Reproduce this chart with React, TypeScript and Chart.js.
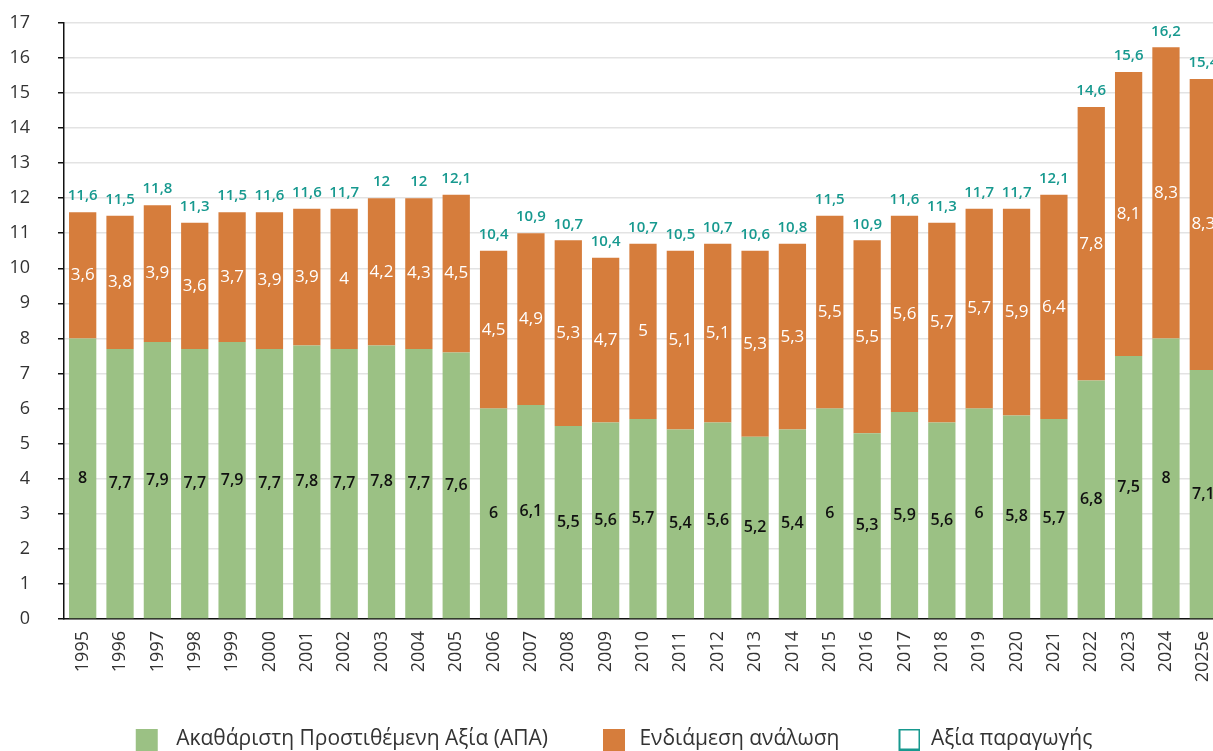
import React, { useEffect, useRef } from "react";
import { Chart, registerables } from "chart.js";

Chart.register(...registerables);

const years = ["1995","1996","1997","1998","1999","2000","2001","2002","2003","2004","2005","2006","2007","2008","2009","2010","2011","2012","2013","2014","2015","2016","2017","2018","2019","2020","2021","2022","2023","2024","2025e"];
const grossValueAdded = [8,7.7,7.9,7.7,7.9,7.7,7.8,7.7,7.8,7.7,7.6,6,6.1,5.5,5.6,5.7,5.4,5.6,5.2,5.4,6,5.3,5.9,5.6,6,5.8,5.7,6.8,7.5,8,7.1];
const intermediate = [3.6,3.8,3.9,3.6,3.7,3.9,3.9,4,4.2,4.3,4.5,4.5,4.9,5.3,4.7,5,5.1,5.1,5.3,5.3,5.5,5.5,5.6,5.7,5.7,5.9,6.4,7.8,8.1,8.3,8.3];
const production = [11.6,11.5,11.8,11.3,11.5,11.6,11.6,11.7,12,12,12.1,10.4,10.9,10.7,10.4,10.7,10.5,10.7,10.6,10.8,11.5,10.9,11.6,11.3,11.7,11.7,12.1,14.6,15.6,16.2,15.4];
const yTicks = [0,1,2,3,4,5,6,7,8,9,10,11,12,13,14,15,16,17];

const FONT = "'Open Sans'";
const GREEN = "#9bc184";
const ORANGE = "#d67d3c";
const TEAL = "#17998f";
const fmt = (v: number) => String(v).replace(".", ",");

function legendSwatch(offset: number, fill: string | null, stroke: string | null) {
  const c = document.createElement("canvas");
  c.width = 40;
  c.height = 22;
  const g = c.getContext("2d")!;
  if (fill) {
    g.fillStyle = fill;
    g.fillRect(offset, 0, 22, 22);
  }
  if (stroke) {
    g.fillStyle = "#ffffff";
    g.fillRect(offset, 0, 22, 22);
    g.strokeStyle = stroke;
    g.lineWidth = 2;
    g.strokeRect(offset + 1, 1, 20, 20);
  }
  return c;
}

const labelPlugin = {
  id: "valueLabels",
  afterDatasetsDraw(chart: any) {
    const ctx = chart.ctx;
    ctx.save();
    ctx.textAlign = "center";
    ctx.textBaseline = "middle";
    const m0 = chart.getDatasetMeta(0);
    const m1 = chart.getDatasetMeta(1);
    m0.data.forEach((el: any, i: number) => {
      ctx.font = `600 16px ${FONT}`;
      ctx.fillStyle = "#111";
      ctx.fillText(fmt(grossValueAdded[i]), el.x, (el.y + el.base) / 2);
    });
    m1.data.forEach((el: any, i: number) => {
      ctx.font = `400 17px ${FONT}`;
      ctx.fillStyle = "#ffffff";
      ctx.fillText(fmt(intermediate[i]), el.x, (el.y + el.base) / 2);
      ctx.font = `600 15px ${FONT}`;
      ctx.fillStyle = TEAL;
      ctx.fillText(fmt(production[i]), el.x, el.y - 16);
    });
    ctx.restore();
  },
};

export default function App() {
  const ref = useRef<HTMLCanvasElement | null>(null);
  useEffect(() => {
    if (!ref.current) return;
    const swatches = [
      legendSwatch(10, GREEN, null),
      legendSwatch(14, ORANGE, null),
      legendSwatch(18, null, TEAL),
    ];
    const chart = new Chart(ref.current, {
      type: "bar",
      data: {
        labels: years,
        datasets: [
          {
            label: "Ακαθάριστη Προστιθέμενη Αξία (ΑΠΑ)",
            data: grossValueAdded,
            backgroundColor: GREEN,
            stack: "s",
            categoryPercentage: 0.73,
            barPercentage: 1,
          },
          {
            label: "Ενδιάμεση ανάλωση",
            data: intermediate,
            backgroundColor: ORANGE,
            stack: "s",
            categoryPercentage: 0.73,
            barPercentage: 1,
          },
          {
            type: "line",
            label: "Αξία παραγωγής",
            data: production,
            stack: "t",
            showLine: false,
            pointRadius: 0,
            pointHoverRadius: 0,
            backgroundColor: "#ffffff",
            borderColor: TEAL,
            borderWidth: 1.5,
          } as any,
        ],
      },
      options: {
        animation: false,
        responsive: false,
        maintainAspectRatio: false,
        layout: { padding: { top: 7, right: 0, left: 0, bottom: 0 } },
        plugins: {
          tooltip: { enabled: false },
          legend: {
            position: "bottom",
            labels: {
              usePointStyle: true,
              pointStyleWidth: 40,
              boxHeight: 22,
              padding: 41,
              color: "#333",
              font: { family: FONT, size: 21 },
              generateLabels: (c: any) => {
                const items = Chart.defaults.plugins.legend.labels.generateLabels(c);
                return items.map((it: any, i: number) => ({ ...it, pointStyle: swatches[i] }));
              },
            },
          },
        },
        scales: {
          x: {
            stacked: true,
            grid: { display: false },
            border: { color: "#111", width: 1.5 },
            afterFit: (axis: any) => {
              axis.height = 69;
              axis.paddingLeft = 0;
              axis.paddingRight = 0;
            },
            ticks: {
              color: "#333",
              font: { family: FONT, size: 18 },
              maxRotation: 90,
              minRotation: 90,
              autoSkip: false,
              padding: 4,
            },
          },
          y: {
            stacked: true,
            min: 0,
            max: 17,
            afterBuildTicks: (axis: any) => {
              axis.ticks = yTicks.map((v) => ({ value: v }));
            },
            afterFit: (axis: any) => {
              axis.width = 68;
            },
            grid: { color: "#e3e3e3", lineWidth: 1.5, tickLength: 6, tickColor: "#111" },
            border: { color: "#111", width: 1.5 },
            ticks: {
              color: "#333",
              font: { family: FONT, size: 18 },
              padding: 28,
            },
          },
        },
      },
      plugins: [labelPlugin],
    });
    return () => chart.destroy();
  }, []);
  return (
    <div style={{ position: "absolute", left: 0, top: 0, width: 1213, height: 751, overflow: "hidden", background: "#fff" }}>
      <canvas ref={ref} width={1226} height={776} style={{ display: "block", marginTop: -16, marginLeft: -4 }} />
    </div>
  );
}
